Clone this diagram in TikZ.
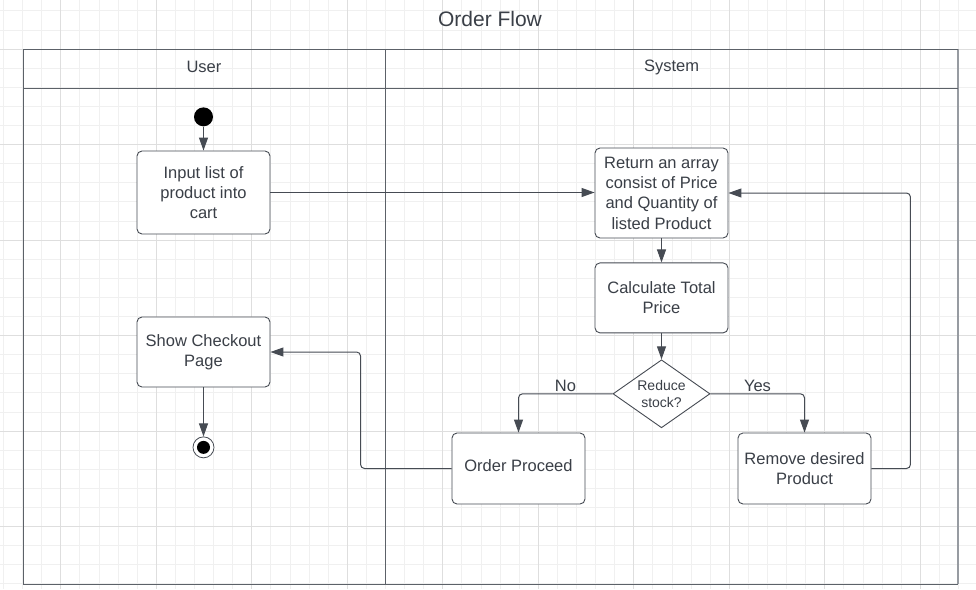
\documentclass[tikz,border=0pt]{standalone}
\usepackage{fontspec}
\setmainfont{Liberation Sans}
\usetikzlibrary{arrows.meta,positioning,shapes.geometric}

\definecolor{ink}{HTML}{3A3F47}
\definecolor{edgecol}{HTML}{464B53}
\definecolor{poolcol}{HTML}{5C6168}
\definecolor{poolside}{HTML}{979BA1}
\definecolor{gridminor}{HTML}{F0F0F0}
\definecolor{gridmajor}{HTML}{DEDEDE}

\begin{document}
\begin{tikzpicture}[x=1pt, y=1pt,
  action/.style = {draw=edgecol, fill=white, line width=0.9pt, rounded corners=5pt, minimum width=133pt, text=ink, align=center, font=\fontsize{16.5}{20.3}\selectfont},
  decision/.style = {diamond, draw=edgecol, fill=white, line width=0.9pt, aspect=1.43, minimum width=97pt, minimum height=68pt, inner sep=0pt, text=ink, align=center, font=\fontsize{14}{17}\selectfont},
  startdot/.style = {circle, fill=black, minimum size=19pt, inner sep=0pt},
  enddot/.style = {circle, draw=edgecol, fill=white, line width=0.8pt, minimum size=21pt, inner sep=0pt,
    path picture={\fill[black] (path picture bounding box.center) circle (6.5pt);}},
  flow/.style = {draw=edgecol, line width=1pt, rounded corners=4pt, -{Triangle[length=13pt,width=9pt]}},
  lbl/.style = {text=ink, font=\fontsize{16.5}{20}\selectfont},
  minorline/.style = {draw=gridminor, line width=0.8pt},
  majorline/.style = {draw=gridmajor, line width=0.9pt}]

\useasboundingbox (0,0) rectangle (976,-589);
\fill[white] (0,0) rectangle (976,-589);

% background grid
\foreach \i in {-3,...,48} \draw[minorline] ({60.7+19.1*\i},0) -- ++(0,-589);
\foreach \j in {-2,...,28} \draw[minorline] (0,{-49-19.1*\j}) -- ++(976,0);
\foreach \i in {-1,...,9} \draw[majorline] ({60.7+95.5*\i},0) -- ++(0,-589);
\foreach \j in {0,...,5} \draw[majorline] (0,{-49-95.5*\j}) -- ++(976,0);

% pool and lanes
\node[text=ink, font=\fontsize{21}{24}\selectfont] (title) at (490,-19) {Order Flow};
\draw[poolside, line width=2pt] (958,-49) -- (958,-584);
\draw[poolcol, line width=1pt] (958,-49) -- (23,-49) -- (23,-584) -- (958,-584);
\draw[poolcol, line width=1pt] (23,-88) -- (958,-88);
\draw[poolcol, line width=1pt] (385,-49) -- (385,-584);
\node[lbl] (user) at (204,-67) {User};
\node[lbl] (system) at (671.5,-67) {System};

% user lane
\node[action, minimum height=83pt] (input) at (203.5,-192.5) {Input list of\\product into\\cart};
\node[startdot] (start) [above=24pt of input] {};
\node[action, minimum height=70pt] (checkout) at (203.5,-352) {Show Checkout\\Page};
\node[enddot] (end) [below=49pt of checkout] {};

% system lane
\node[action, minimum height=90pt] (ret) at (661.5,-193) {Return an array\\consist of Price\\and Quantity of\\listed Product};
\node[action, minimum height=70pt] (calc) [below=24pt of ret] {Calculate Total\\Price};
\node[decision] (dec) [below=26pt of calc] {Reduce\\stock?};
\node[action, minimum height=71pt, text depth=5pt] (proceed) at (518.5,-468.5) {Order Proceed};
\node[action, minimum height=71pt] (remove) at (804.5,-468.5) {Remove desired\\Product};

\path[flow] (start) -- (input);
\path[flow] (input.east) -- (ret.west |- input.east);
\path[flow] (ret) -- (calc);
\path[flow] (calc) -- (dec);
\path[flow] (dec.west) -| node[lbl, pos=0.25, above=-2pt] {No} (proceed.north);
\path[flow] (dec.east) -| node[lbl, pos=0.25, above=-2pt] {Yes} (remove.north);
\path[flow] (remove.east) -- ++(39,0) |- (ret.east);
\path[flow] (proceed.west) -- ++(-91,0) |- (checkout.east);
\path[flow] (checkout) -- (end);

\end{tikzpicture}
\end{document}
